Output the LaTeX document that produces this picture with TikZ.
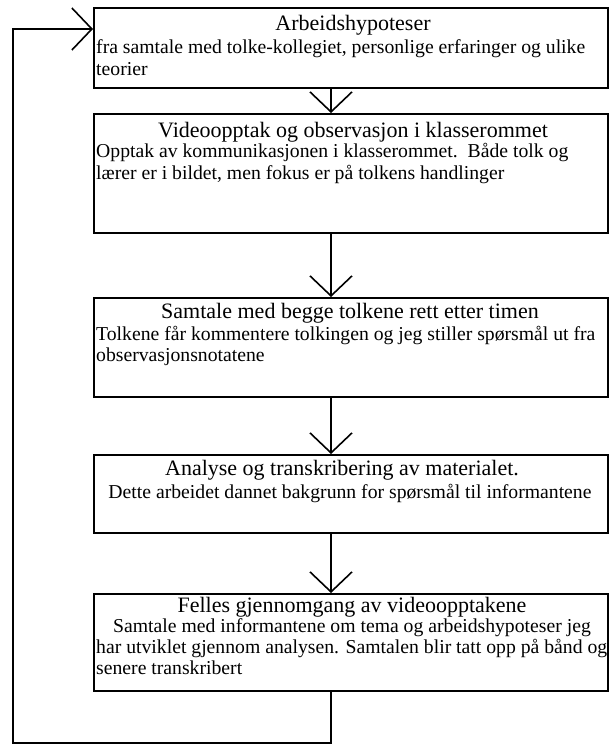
\documentclass[tikz,border=0pt]{standalone}
\usepackage{fontspec}
\setmainfont{Liberation Serif}
\usetikzlibrary{arrows.meta}
\tikzset{
  box/.style={draw, line width=1.8pt, rectangle, inner sep=0pt, anchor=north west, minimum width=514pt},
  conn/.style={line width=1.6pt},
  vtip/.style={-{Straight Barb[length=20pt,width=42pt,line width=1.6pt]}},
  txt/.style={inner sep=0pt, font=\fontsize{19.7}{22}\selectfont},
  ttl/.style={inner sep=0pt, font=\fontsize{22}{24}\selectfont, anchor=base},
  lft/.style={txt, anchor=base west},
  ctr/.style={txt, anchor=base}
}
\begin{document}
\begin{tikzpicture}[x=1pt,y=-1pt]
\useasboundingbox (0,0) rectangle (614,745);
% boxes
\node[box, minimum height=80pt]  (b1) at (93,7) {};
\node[box, minimum height=119pt] (b2) at (93,113) {};
\node[box, minimum height=99pt]  (b3) at (93,297) {};
\node[box, minimum height=78pt]  (b4) at (93,454) {};
\node[box, minimum height=97pt]  (b5) at (93,593) {};
% texts box 1
\node[ttl] (t1) at (353,30) {Arbeidshypoteser};
\node[lft] (t1a) at (96,53) {fra samtale med tolke-kollegiet, personlige erfaringer og ulike};
\node[lft] (t1b) at (96,75) {teorier};
% box 2
\node[ttl, anchor=base west] (t2) at (158,137) {Videoopptak og observasjon i klasserommet};
\node[lft] (t2a) at (96,157) {Opptak av kommunikasjonen i klasserommet.\ \ Både tolk og};
\node[lft] (t2b) at (96,179) {lærer er i bildet, men fokus er på tolkens handlinger};
% box 3
\node[ttl] (t3) at (350,318) {Samtale med begge tolkene rett etter timen};
\node[lft] (t3a) at (96,340) {Tolkene får kommentere tolkingen og jeg stiller spørsmål ut fra};
\node[lft] (t3b) at (96,361) {observasjonsnotatene};
% box 4
\node[ttl] (t4) at (342,475) {Analyse og transkribering av materialet.};
\node[ctr] (t4a) at (350,498) {Dette arbeidet dannet bakgrunn for spørsmål til informantene};
% box 5
\node[ttl] (t5) at (352,612) {Felles gjennomgang av videoopptakene};
\node[ctr] (t5a) at (352,632) {Samtale med informantene om tema og arbeidshypoteser jeg};
\node[lft] (t5b) at (96,653) {har utviklet gjennom analysen. Samtalen blir tatt opp på bånd og};
\node[lft] (t5c) at (96,674) {senere transkribert};
% connectors
\coordinate (ax) at (331,0);
\coordinate (lb) at (13,743);
\coordinate (lt) at (13,29);
\draw[conn, vtip] (b1.south -| ax) -- (b2.north -| ax);
\draw[conn, vtip] (b2.south -| ax) -- (b3.north -| ax);
\draw[conn, vtip] (b3.south -| ax) -- (b4.north -| ax);
\draw[conn, vtip] (b4.south -| ax) -- (b5.north -| ax);
\draw[conn, vtip] (b5.south -| ax) |- (lb) -- (lt) -- (b1.north west |- lt);
\end{tikzpicture}
\end{document}
